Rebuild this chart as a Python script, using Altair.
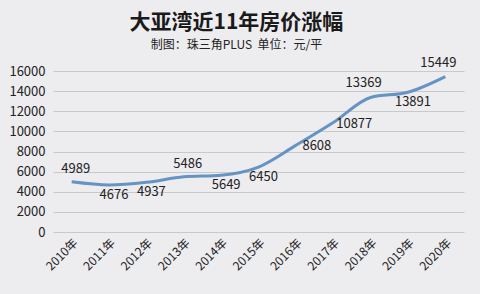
import altair as alt
import pandas as pd

years = ["2010年", "2011年", "2012年", "2013年", "2014年", "2015年",
         "2016年", "2017年", "2018年", "2019年", "2020年"]
prices = [4989, 4676, 4937, 5486, 5649, 6450, 8608, 10877, 13369, 13891, 15449]
label_side = ["above", "below", "below", "above", "below", "below",
              "right", "right", "aboveleft", "below", "aboveleft"]

df = pd.DataFrame({"year": years, "price": prices, "side": label_side})

FONT = "Noto Sans CJK SC"
x = alt.X("year:N", sort=years, scale=alt.Scale(type="point", padding=0.5),
          axis=alt.Axis(title=None, labelAngle=-45, ticks=False, domain=False,
                        labelFontSize=12, labelColor="#222", labelFont=FONT,
                        labelPadding=5, grid=False, labelOverlap=False))
y = alt.Y("price:Q", scale=alt.Scale(domain=[0, 16000], nice=False),
          axis=alt.Axis(title=None, values=list(range(0, 16001, 2000)), ticks=False,
                        domain=False, labelFontSize=13, labelColor="#222",
                        labelFont=FONT, labelPadding=8, gridColor="#c9c9cc",
                        gridWidth=1, format="d", labelOverlap=False,
                        labelBound=False, labelFlush=False))

base = alt.Chart(df).encode(x=x, y=y)
line = base.mark_line(interpolate="monotone", color="#6593c4", strokeWidth=3)

def labels(side, dx, dy):
    return base.transform_filter(alt.datum.side == side).mark_text(
        dx=dx, dy=dy, fontSize=13, font=FONT, color="#222"
    ).encode(text="price:Q")

chart = alt.layer(
    line,
    labels("above", 4, -13),
    labels("aboveleft", -7, -14),
    labels("below", 5, 10),
    labels("right", 21, 1),
).properties(
    width=411, height=161,
    autosize=alt.AutoSizeParams(type="none"),
    padding={"left": 53, "top": 71, "right": 16, "bottom": 62},
    background="#edecef",
    title=alt.TitleParams(
        text="大亚湾近11年房价涨幅",
        subtitle="制图：珠三角PLUS\u00a0\u00a0单位：元/平",
        font=FONT, fontSize=21, fontWeight="bold", color="#1a1a1a",
        subtitleFont=FONT, subtitleFontSize=12, subtitleColor="#222",
        subtitlePadding=7,
        anchor="middle", frame="bounds", offset=6,
    ),
).configure_view(stroke=None)

chart.save("out.html", embed_options={"renderer": "svg", "actions": False})
